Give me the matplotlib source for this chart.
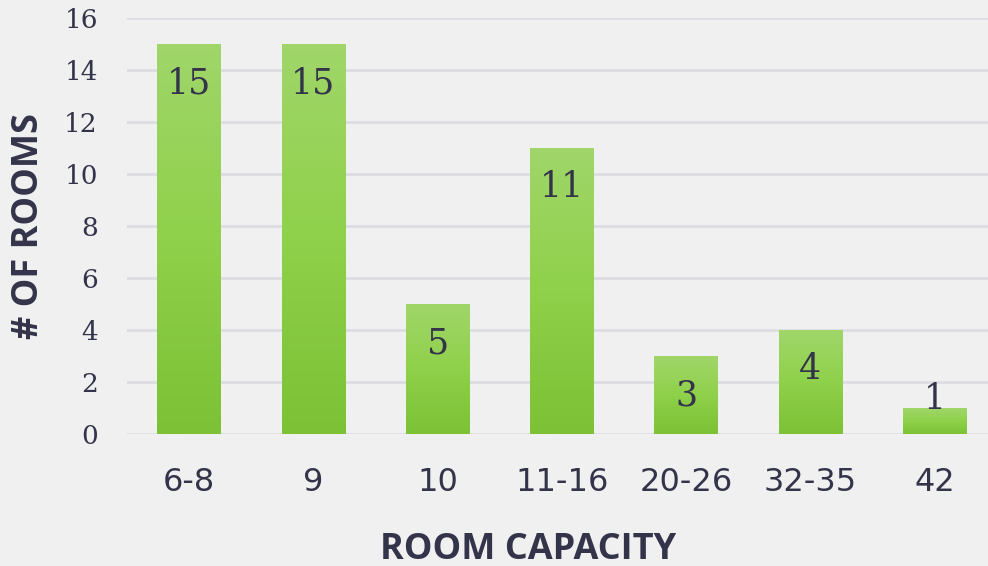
import numpy as np
import matplotlib
matplotlib.use('Agg')
import matplotlib.pyplot as plt
from matplotlib.colors import LinearSegmentedColormap

CATEGORIES = ['6-8', '9', '10', '11-16', '20-26', '32-35', '42']
ROOMS = [15, 15, 5, 11, 3, 4, 1]
Y_TICKS = [0, 2, 4, 6, 8, 10, 12, 14, 16]

BG = '#f0f0f0'
TEXT = '#33334a'
GRID = '#dcdce4'
GREEN = LinearSegmentedColormap.from_list('green', ['#7cc136', '#8fd14a', '#a0d66a'])

fig = plt.figure(figsize=(9.88, 5.66), dpi=100, facecolor=BG)
ax = fig.add_axes([0.1285, 0.2332, 0.8715, 0.7348], facecolor=BG)

x = np.arange(len(CATEGORIES))
width = 0.51
bars = ax.bar(x, ROOMS, width=width, color='none', zorder=3)

# vertical gradient inside each bar
grad = np.linspace(0, 1, 256).reshape(-1, 1)
for b in bars:
    x0, y0 = b.get_x(), b.get_y()
    ax.imshow(grad, cmap=GREEN, origin='lower', aspect='auto', zorder=3,
              extent=[x0, x0 + b.get_width(), y0, y0 + b.get_height()])

for xi, v in zip(x, ROOMS):
    ax.text(xi, max(v - 1.5, 1.35), str(v), ha='center', va='center',
            fontsize=25, family='DejaVu Serif', color=TEXT, zorder=4)

ax.set_xlim(-0.5, 6.43)
ax.set_ylim(0, 16)
ax.set_yticks(Y_TICKS)
ax.set_xticks(x)
ax.set_xticklabels(CATEGORIES)
ax.grid(axis='y', color=GRID, linewidth=2, zorder=0)
ax.set_axisbelow(True)
for s in ax.spines.values():
    s.set_visible(False)
ax.tick_params(length=0)
for lab in ax.get_yticklabels():
    lab.set_fontfamily('DejaVu Serif')
    lab.set_fontsize(19)
    lab.set_color(TEXT)
for lab in ax.get_xticklabels():
    lab.set_fontfamily('DejaVu Sans')
    lab.set_fontsize(23)
    lab.set_color(TEXT)
ax.tick_params(axis='y', pad=21)
ax.tick_params(axis='x', pad=24)

ax.set_xlabel('ROOM CAPACITY', fontsize=26, fontweight='bold', family='Open Sans',
              color=TEXT, labelpad=24)
ax.xaxis.label.set_x(0.466)
ax.set_ylabel('# OF ROOMS', fontsize=26, fontweight='bold', family='Open Sans',
              color=TEXT, labelpad=12)

fig.savefig('out.png', dpi=100, facecolor=BG)
